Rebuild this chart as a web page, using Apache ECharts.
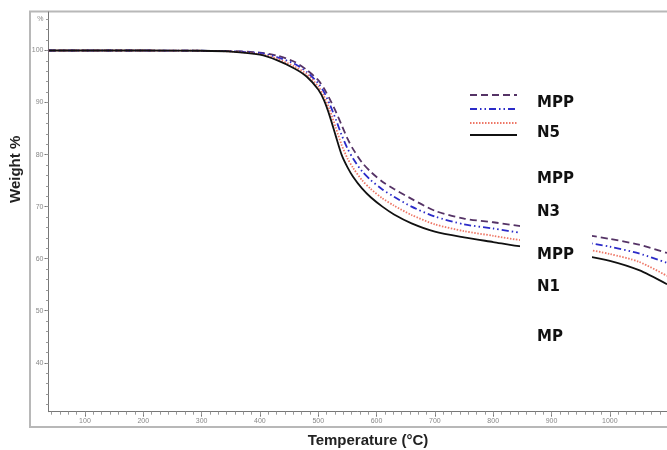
<!DOCTYPE html>
<html>
<head>
<meta charset="utf-8">
<script src="https://cdn.jsdelivr.net/npm/echarts@6/dist/echarts.min.js"></script>
<style>
html,body{margin:0;padding:0;background:#fff;}
#main{width:667px;height:450px;}
</style>
</head>
<body>
<div id="main"></div>
<script>
// Temperatures (°C) at which weights were read
const temps = [38, 200, 300, 350, 400, 430, 460, 480, 500, 510, 520, 530, 540, 550, 560, 575, 590, 610, 630, 660, 700, 750, 800, 850, 900, 950, 1000, 1050, 1098];
// Weight % per sample
const mppN5 = [100, 100, 99.95, 99.9, 99.6, 99.0, 97.8, 96.3, 94.3, 92.7, 90.6, 88.3, 85.7, 83.1, 81.0, 78.5, 76.7, 74.8, 73.4, 71.5, 69.2, 67.7, 67.0, 66.2, 65.4, 64.7, 63.8, 62.7, 61.1];
const mppN3 = [100, 100, 99.95, 99.85, 99.5, 98.7, 97.4, 95.9, 93.7, 92.0, 89.6, 86.8, 83.8, 81.2, 79.2, 76.8, 75.1, 73.3, 71.9, 70.0, 68.1, 66.6, 65.8, 64.9, 64.1, 63.3, 62.3, 61.0, 59.2];
const mppN1 = [100, 100, 99.95, 99.8, 99.3, 98.4, 96.9, 95.5, 93.1, 91.2, 88.5, 85.2, 81.9, 79.3, 77.4, 75.1, 73.4, 71.6, 70.2, 68.4, 66.6, 65.3, 64.4, 63.5, 62.8, 62.0, 60.9, 59.4, 56.7];
const mp    = [100, 100, 99.95, 99.8, 99.2, 98.1, 96.5, 95.0, 92.5, 90.4, 87.3, 83.6, 80.0, 77.6, 75.7, 73.5, 71.8, 70.0, 68.5, 66.8, 65.2, 64.1, 63.2, 62.3, 61.6, 60.7, 59.6, 57.8, 55.1];

// Tick labels
const xTickLabels = [100, 200, 300, 400, 500, 600, 700, 800, 900, 1000];
const yTickLabels = [40, 50, 60, 70, 80, 90, 100];
const yUnitLabel = '%';
const yUnitPos = 106;

const xMin = 37.5, xMax = 1098, yMin = 30.6, yMax = 107.4;

// minor ticks (7 per 100 on x, every 2 on y)
const xMinor = [];
for (let b = 0; b <= 1100; b += 100) {
  for (let k = 0; k < 7; k++) {
    const v = b + k * 100 / 7;
    if (v >= xMin && v <= xMax) xMinor.push(v);
  }
}
const yMinor = [];
for (let v = 32; v <= 106; v += 2) yMinor.push(v);

const pairs = arr => temps.map((t, i) => [t, arr[i]]);

const seriesDefs = [
  { name: 'MPP N5', data: mppN5, color: '#553366', type: [7, 4] },
  { name: 'MPP N3', data: mppN3, color: '#2b2bc8', type: [7, 3, 1.5, 3, 1.5, 3] },
  { name: 'MPP N1', data: mppN1, color: '#ee7766', type: [1.5, 1.5] },
  { name: 'MP', data: mp, color: '#111111', type: 'solid' }
];

const chart = echarts.init(document.getElementById('main'), null, { renderer: 'canvas' });

const legendGraphics = [];
const legY = [95, 109, 123, 135];
seriesDefs.forEach((s, i) => {
  legendGraphics.push({
    type: 'line', z: 110,
    shape: { x1: 470, y1: legY[i], x2: 517, y2: legY[i] },
    style: { stroke: s.color, lineWidth: 1.8, lineDash: s.type === 'solid' ? null : s.type }
  });
});
const legTexts = [['MPP', 103], ['N5', 133], ['MPP', 179], ['N3', 212], ['MPP', 255], ['N1', 287], ['MP', 337]];
legTexts.forEach(t => {
  legendGraphics.push({
    type: 'text', z: 111, x: 537, y: t[1],
    style: { text: t[0], font: 'bold 15px "DejaVu Sans", Verdana, sans-serif', fill: '#111', textVerticalAlign: 'middle' }
  });
});

chart.setOption({
  animation: false,
  backgroundColor: '#ffffff',
  grid: { left: 48.5, right: 0, top: 12, bottom: 38.3 },
  xAxis: [
    {
      type: 'value', min: xMin, max: xMax,
      axisLine: { show: true, lineStyle: { color: '#777', width: 1 } },
      axisTick: { show: true, customValues: xTickLabels, length: 5, lineStyle: { color: '#777' } },
      axisLabel: { customValues: xTickLabels, fontSize: 7, color: '#888', margin: 6, fontFamily: 'Liberation Sans', formatter: v => String(v) },
      splitLine: { show: false }
    },
    {
      type: 'value', min: xMin, max: xMax, position: 'bottom',
      axisLine: { show: false },
      axisTick: { show: true, customValues: xMinor, length: 3, lineStyle: { color: '#999' } },
      axisLabel: { show: false },
      splitLine: { show: false }
    }
  ],
  yAxis: [
    {
      type: 'value', min: yMin, max: yMax,
      axisLine: { show: true, lineStyle: { color: '#777', width: 1 } },
      axisTick: { show: true, customValues: yTickLabels, length: 4, lineStyle: { color: '#777' } },
      axisLabel: {
        customValues: yTickLabels.concat([yUnitPos]), fontSize: 7, color: '#888', margin: 5, fontFamily: 'Liberation Sans',
        formatter: v => (v === yUnitPos ? yUnitLabel : String(v))
      },
      splitLine: { show: false }
    },
    {
      type: 'value', min: yMin, max: yMax, position: 'left',
      axisLine: { show: false },
      axisTick: { show: true, customValues: yMinor, length: 2.5, lineStyle: { color: '#999' } },
      axisLabel: { show: false },
      splitLine: { show: false }
    }
  ],
  series: seriesDefs.map(s => ({
    name: s.name, type: 'line', xAxisIndex: 0, yAxisIndex: 0,
    data: pairs(s.data), showSymbol: false, smooth: 0.25,
    lineStyle: { color: s.color, width: 1.8, type: s.type },
    itemStyle: { color: s.color }, z: 5
  })),
  graphic: [
    {
      type: 'rect', z: -1, silent: true,
      shape: { x: 30, y: 11.5, width: 700, height: 415.5 },
      style: { fill: 'none', stroke: '#b8b8b8', lineWidth: 2 }
    },
    {
      type: 'rect', z: 100, silent: true,
      shape: { x: 520, y: 88, width: 72, height: 272 },
      style: { fill: '#ffffff' }
    },
    {
      type: 'text', z: 101, x: 8, y: 203, rotation: Math.PI / 2,
      style: { text: 'Weight %', font: 'bold 15px "Liberation Sans", Arial, sans-serif', fill: '#222' }
    },
    {
      type: 'text', z: 101, x: 368, y: 441,
      style: { text: 'Temperature (°C)', font: 'bold 15px "Liberation Sans", Arial, sans-serif', fill: '#222', textAlign: 'center', textVerticalAlign: 'middle' }
    }
  ].concat(legendGraphics)
});
</script>
</body>
</html>
